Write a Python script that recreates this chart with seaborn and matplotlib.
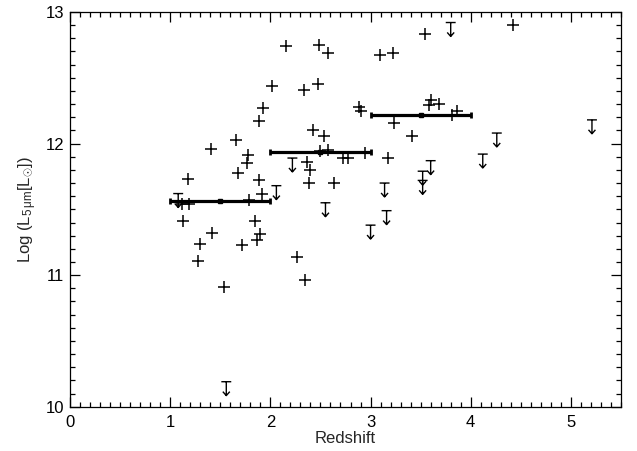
import numpy as np
import pandas as pd
import matplotlib
matplotlib.use('Agg')
from matplotlib import pyplot as plt
from matplotlib.path import Path
from matplotlib.ticker import MultipleLocator
import seaborn as sns

# detections (redshift, log L 5um)
det_z = [1.12, 1.19, 1.13, 1.18, 1.41, 1.66, 1.78, 1.77, 1.68, 1.89,
         1.92, 1.79, 1.85, 1.42, 1.90, 1.87, 1.30, 1.72, 1.28, 2.27,
         2.35, 1.54, 2.16, 2.49, 2.58, 3.09, 3.22, 2.02, 2.34, 2.48,
         1.93, 1.89, 2.88, 2.90, 3.23, 2.43, 2.54, 2.50, 2.58, 2.72,
         2.77, 2.94, 3.17, 2.37, 2.40, 2.39, 2.64, 3.54, 4.42, 3.60,
         3.58, 3.68, 3.81, 3.86, 3.41]
det_L = [11.54, 11.54, 11.41, 11.73, 11.96, 12.03, 11.91, 11.85, 11.78, 11.72,
         11.62, 11.57, 11.41, 11.32, 11.31, 11.27, 11.24, 11.23, 11.11, 11.14,
         10.96, 10.91, 12.74, 12.75, 12.69, 12.67, 12.69, 12.44, 12.41, 12.45,
         12.27, 12.17, 12.28, 12.25, 12.16, 12.10, 12.06, 11.94, 11.95, 11.89,
         11.89, 11.93, 11.89, 11.86, 11.80, 11.70, 11.70, 12.83, 12.90, 12.33,
         12.29, 12.30, 12.22, 12.25, 12.06]

# upper limits
ul_z = [1.08, 2.06, 2.22, 2.55, 3.14, 3.16, 3.00, 1.56, 3.80, 5.21,
        4.26, 4.12, 3.60, 3.52, 3.52]
ul_L = [11.62, 11.68, 11.89, 11.55, 11.70, 11.49, 11.38, 10.19, 12.92, 12.18,
        12.08, 11.92, 11.87, 11.79, 11.72]

# binned means
bin_lo = [1.0, 2.0, 3.0]
bin_hi = [2.0, 3.0, 4.0]
bin_mean = [11.56, 11.935, 12.215]

sns.set_style('ticks')
plt.rcParams['font.family'] = ['Liberation Sans', 'DejaVu Sans']
plt.rcParams['mathtext.fontset'] = 'custom'
plt.rcParams['mathtext.rm'] = 'Liberation Sans'
plt.rcParams['mathtext.it'] = 'Liberation Sans:italic'

df_det = pd.DataFrame({'z': det_z, 'L': det_L})
df_ul = pd.DataFrame({'z': ul_z, 'L': ul_L})

fig = plt.figure(figsize=(6.37, 4.51), dpi=100)
ax = fig.add_axes([0.1099, 0.0982, 0.865, 0.8752])

# upper-limit symbol: bar on top, arrow pointing down
verts = [(-0.5, 0), (0.5, 0), (0, 0), (0, -1.4),
         (-0.35, -1.0), (0, -1.4), (0.35, -1.0)]
codes = [Path.MOVETO, Path.LINETO, Path.MOVETO, Path.LINETO,
         Path.MOVETO, Path.LINETO, Path.LINETO]
arrow = Path(verts, codes)

sns.scatterplot(data=df_det, x='z', y='L', marker='+', s=75, color='black',
                linewidth=1.1, ax=ax, zorder=3)
sns.scatterplot(data=df_ul, x='z', y='L', marker=arrow, s=400, color='black',
                facecolor='none', edgecolor='black', linewidth=1.0, ax=ax, zorder=3)

centers = [(a + b) / 2 for a, b in zip(bin_lo, bin_hi)]
halfw = [(b - a) / 2 for a, b in zip(bin_lo, bin_hi)]
ax.errorbar(centers, bin_mean, xerr=halfw, fmt='s', ms=3, color='black',
            elinewidth=2.3, capsize=2.3, capthick=2, zorder=4)

ax.set_xlim(0, 5.5)
ax.set_ylim(10, 13)
ax.xaxis.set_major_locator(MultipleLocator(1))
ax.xaxis.set_minor_locator(MultipleLocator(0.1))
ax.yaxis.set_major_locator(MultipleLocator(1))
ax.yaxis.set_minor_locator(MultipleLocator(0.1))
ax.tick_params(which='both', direction='in', top=True, right=True,
               colors='black', width=0.9)
ax.tick_params(which='major', length=7.5)
ax.tick_params(which='minor', length=3.8)
ax.tick_params(axis='x', which='major', pad=6, labelsize=12)
ax.tick_params(axis='y', which='major', pad=4, labelsize=12)
for s in ax.spines.values():
    s.set_visible(True)
    s.set_linewidth(0.9)
    s.set_color('black')

ax.set_xlabel('Redshift', fontsize=12, labelpad=1)
ax.set_ylabel('Log (L$_{5\\,\\mathrm{μm}}$[L$_{\\odot}$])', fontsize=12, labelpad=5)

fig.savefig('out.png', dpi=100)
